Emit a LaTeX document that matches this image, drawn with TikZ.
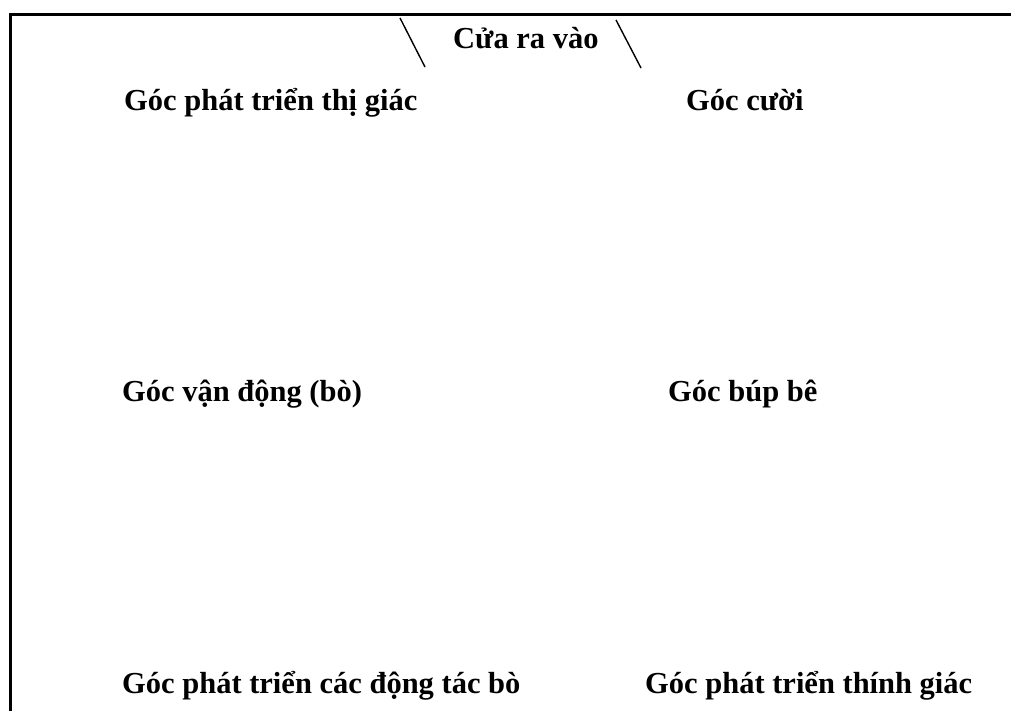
\documentclass[tikz,border=0pt]{standalone}
\usepackage{fontspec}
\setmainfont{Liberation Serif}
\usepackage{tikz}
\usetikzlibrary{positioning}

\begin{document}
\begin{tikzpicture}[x=1pt,y=-1pt,
  label/.style={anchor=base west,inner sep=0pt,font=\fontsize{30.5}{34}\selectfont\bfseries},
  wall/.style={line width=3pt},
  door/.style={line width=1.4pt}]

\useasboundingbox (0,0) rectangle (1011,711);

% tuong
\draw[wall] (10,711) -- (10,15) -- (1013,15);

% cua
\draw[door] (400,18) -- (425,67);
\draw[door] (616,20) -- (641,68);

\node[label] (cua) at (453,49) {Cửa ra vào};

\node[label] (thigiac) at (124,111) {Góc phát triển thị giác};
\node[label] (cuoi) at (686,111) {Góc cười};
\node[label] (vandong) at (122,401) {Góc vận động (bò)};
\node[label] (bupbe) at (668,401) {Góc búp bê};
\node[label] (dongtac) at (122,693) {Góc phát triển các động tác bò};
\node[label] (thinhgiac) at (645,693) {Góc phát triển thính giác};

\end{tikzpicture}
\end{document}
